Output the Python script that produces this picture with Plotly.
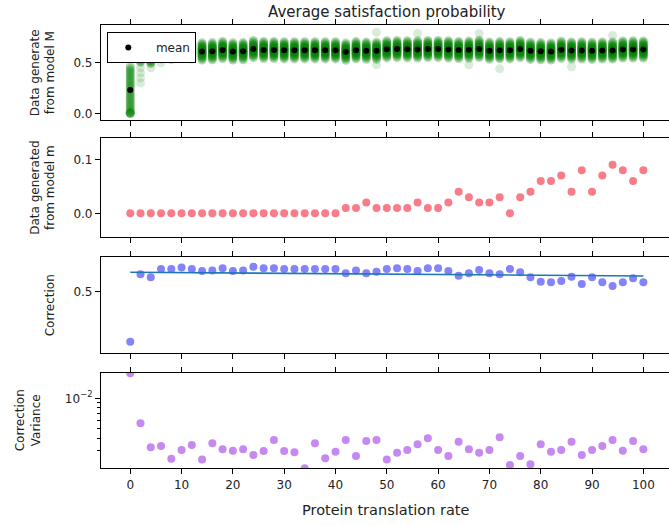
import plotly.graph_objects as go

# ---------------- data ----------------
x_rates = [0, 2, 4, 6, 8, 10, 12, 14, 16, 18, 20, 22, 24, 26, 28, 30, 32, 34, 36, 38, 40,
           42, 44, 46, 48, 50, 52, 54, 56, 58, 60, 62, 64, 66, 68, 70, 72, 74, 76, 78, 80,
           82, 84, 86, 88, 90, 92, 94, 96, 98, 100]

mean_M = [0.230, 0.594, 0.578, 0.623, 0.623, 0.630, 0.623, 0.612, 0.614, 0.626, 0.612,
          0.614, 0.635, 0.626, 0.626, 0.623, 0.623, 0.623, 0.623, 0.623, 0.623,
          0.609, 0.624, 0.619, 0.618, 0.633, 0.636, 0.633, 0.632, 0.636, 0.636,
          0.632, 0.626, 0.629, 0.637, 0.619, 0.624, 0.623, 0.635, 0.618, 0.614,
          0.611, 0.628, 0.621, 0.622, 0.618, 0.621, 0.621, 0.631, 0.632, 0.631]

# spread of the individual samples around each mean (read from the cloud height)
sample_spread = [-0.085, -0.07, -0.058, -0.048, -0.04, -0.032, -0.025, -0.018, -0.012,
                 -0.006, 0.0, 0.006, 0.012, 0.018, 0.025, 0.032, 0.04, 0.048, 0.058,
                 0.07, 0.085]

x0_samples = [0.0, 0.0, 0.0, 0.01, 0.02, 0.04, 0.06, 0.08, 0.10, 0.12, 0.14, 0.16, 0.18,
              0.20, 0.22, 0.24, 0.26, 0.28, 0.30, 0.32, 0.34, 0.36, 0.38, 0.40, 0.42,
              0.44, 0.46]

tail_x = [2, 2, 2, 2, 2, 4, 4, 4, 6, 6, 8]
tail_y = [0.30, 0.35, 0.40, 0.45, 0.50, 0.45, 0.50, 0.54, 0.50, 0.55, 0.53]

outlier_x = [48, 56, 68, 94, 48, 66, 72, 86]
outlier_y = [0.80, 0.79, 0.79, 0.77, 0.48, 0.48, 0.44, 0.46]

model_m = [0, 0, 0, 0, 0, 0, 0, 0, 0, 0, 0, 0, 0, 0, 0, 0, 0, 0, 0, 0, 0,
           0.01, 0.01, 0.02, 0.01, 0.01, 0.01, 0.01, 0.02, 0.01, 0.01,
           0.02, 0.04, 0.03, 0.02, 0.02, 0.03, 0.0, 0.03, 0.04, 0.06,
           0.06, 0.07, 0.04, 0.08, 0.04, 0.07, 0.09, 0.08, 0.06, 0.08]

correction = [0.230, 0.594, 0.578, 0.623, 0.623, 0.630, 0.623, 0.612, 0.614, 0.626, 0.612,
              0.614, 0.635, 0.626, 0.626, 0.623, 0.623, 0.623, 0.623, 0.623, 0.623,
              0.599, 0.614, 0.599, 0.608, 0.623, 0.626, 0.623, 0.612, 0.626, 0.626,
              0.612, 0.586, 0.599, 0.617, 0.599, 0.594, 0.623, 0.605, 0.578, 0.554,
              0.551, 0.558, 0.581, 0.542, 0.578, 0.551, 0.531, 0.551, 0.572, 0.551]

fit_x = [0, 100]
fit_y = [0.605, 0.585]

corr_var = [0.0178, 0.00562, 0.00324, 0.00333, 0.00249, 0.00304, 0.00341, 0.00245, 0.00355,
            0.00309, 0.00299, 0.00309, 0.00271, 0.00297, 0.00383, 0.00297, 0.00288, 0.00200,
            0.00355, 0.00251, 0.00292, 0.00383, 0.00265, 0.00374, 0.00383, 0.00245, 0.00286,
            0.00304, 0.00347, 0.00398, 0.00304, 0.00265, 0.00368, 0.00309, 0.00286, 0.00304,
            0.00407, 0.00215, 0.00265, 0.00219, 0.00347, 0.00292, 0.00304, 0.00368, 0.00271,
            0.00304, 0.00333, 0.00383, 0.00299, 0.00374, 0.00309]

x_ticks = [0, 10, 20, 30, 40, 50, 60, 70, 80, 90, 100]

# ---------------- build sample cloud ----------------
cloud_x, cloud_y = [], []
for xv in x0_samples:
    cloud_x.append(0)
    cloud_y.append(xv)
for xr, m in zip(x_rates[1:], mean_M[1:]):
    for d in sample_spread:
        cloud_x.append(xr)
        cloud_y.append(m + d)

FONT = "DejaVu Sans"
TXT = "#222222"

fig = go.Figure()
fig.add_trace(go.Scatter(x=tail_x + outlier_x, y=tail_y + outlier_y, mode="markers",
                         xaxis="x", yaxis="y",
                         marker=dict(color="rgba(0,128,0,0.15)", size=9, line=dict(width=0)),
                         showlegend=False, hoverinfo="skip"))
fig.add_trace(go.Scatter(x=cloud_x, y=cloud_y, mode="markers", xaxis="x", yaxis="y",
                         marker=dict(color="rgba(0,128,0,0.3)", size=9, line=dict(width=0)),
                         showlegend=False, hoverinfo="skip"))
fig.add_trace(go.Scatter(x=x_rates, y=mean_M, mode="markers", xaxis="x", yaxis="y",
                         name="\u00a0\u00a0mean", marker=dict(color="black", size=6),
                         showlegend=True))
fig.add_trace(go.Scatter(x=x_rates, y=model_m, mode="markers", xaxis="x2", yaxis="y2",
                         marker=dict(color="rgba(245,70,85,0.7)", size=8), showlegend=False))
fig.add_trace(go.Scatter(x=x_rates, y=correction, mode="markers", xaxis="x3", yaxis="y3",
                         marker=dict(color="rgba(30,30,245,0.55)", size=8), showlegend=False))
fig.add_trace(go.Scatter(x=fit_x, y=fit_y, mode="lines", xaxis="x3", yaxis="y3",
                         line=dict(color="#1f77b4", width=1.6), showlegend=False))
fig.add_trace(go.Scatter(x=x_rates, y=corr_var, mode="markers", xaxis="x4", yaxis="y4",
                         marker=dict(color="rgba(150,40,230,0.55)", size=8), showlegend=False))

H = 443.0
W = 568.3
L = 100.7


def py(px):
    return (468.0 - px) / H


def pxx(px):
    return (px - L) / W


xrange_ = [-5.7, 105.0]
common_x = dict(range=xrange_, showgrid=False, zeroline=False, showline=True,
                linecolor="black", linewidth=1.2, mirror="ticks", ticks="outside",
                ticklen=5, tickwidth=1, tickcolor="black", tickvals=x_ticks,
                tickfont=dict(family=FONT, size=12, color=TXT))
common_y = dict(showgrid=False, zeroline=False, showline=True, linecolor="black",
                linewidth=1.2, ticks="outside", ticklen=5, tickwidth=1, tickcolor="black",
                tickfont=dict(family=FONT, size=12, color=TXT))

layout = dict(
    width=669, height=525,
    margin=dict(l=101, r=0, t=25, b=57),
    plot_bgcolor="white", paper_bgcolor="white",
    font=dict(family=FONT, size=12, color=TXT),
    xaxis=dict(common_x, anchor="y", domain=[0, 1], showticklabels=False),
    xaxis2=dict(common_x, anchor="y2", domain=[0, 1], showticklabels=False),
    xaxis3=dict(common_x, anchor="y3", domain=[0, 1], showticklabels=False),
    xaxis4=dict(common_x, anchor="y4", domain=[0, 1], showticklabels=True),
    yaxis=dict(common_y, anchor="x", domain=[py(119.7), 1.0], range=[-0.063, 0.873],
               tickvals=[0.0, 0.5], ticktext=["0.0", "0.5"]),
    yaxis2=dict(common_y, anchor="x2", domain=[py(237.3), py(138.3)], range=[-0.0444, 0.139],
                tickvals=[0.0, 0.1], ticktext=["0.0", "0.1"]),
    yaxis3=dict(common_y, anchor="x3", domain=[py(353.3), py(256.7)], range=[0.167, 0.689],
                tickvals=[0.5], ticktext=["0.5"]),
    yaxis4=dict(common_y, anchor="x4", domain=[0.0, py(372.7)], type="log",
                range=[-2.697, -1.744], tickvals=[0.01], ticktext=["10<sup>−2</sup>"],
                minor=dict(tickvals=[0.002, 0.003, 0.004, 0.005, 0.006, 0.007, 0.008, 0.009],
                           ticks="outside", ticklen=3, tickwidth=1, tickcolor="black")),
    legend=dict(x=pxx(107), y=py(32), xanchor="left", yanchor="top",
                bordercolor="black", borderwidth=1, bgcolor="white",
                font=dict(family=FONT, size=12, color=TXT)),
    showlegend=True,
)
fig.update_layout(layout)

annots = [
    dict(text="Average satisfaction probability", x=pxx(387), y=py(12),
         font=dict(family=FONT, size=15, color=TXT)),
    dict(text="Data generate<br>from model M", x=pxx(42.5), y=py(72.3), textangle=-90),
    dict(text="Data generated<br>from model m", x=pxx(42.5), y=py(188), textangle=-90),
    dict(text="Correction", x=pxx(50), y=py(305), textangle=-90),
    dict(text="Correction<br>Variance", x=pxx(28), y=py(420), textangle=-90),
    dict(text="Protein translation rate", x=pxx(386), y=py(510),
         font=dict(family=FONT, size=14.5, color=TXT)),
]
for a in annots:
    base = dict(xref="paper", yref="paper", showarrow=False, xanchor="center",
                yanchor="middle", font=dict(family=FONT, size=12, color=TXT))
    base.update(a)
    fig.add_annotation(**base)

fig.write_html("out.html", config={"displayModeBar": False},
               post_script="document.body.style.margin='0';document.body.style.padding='0';")
